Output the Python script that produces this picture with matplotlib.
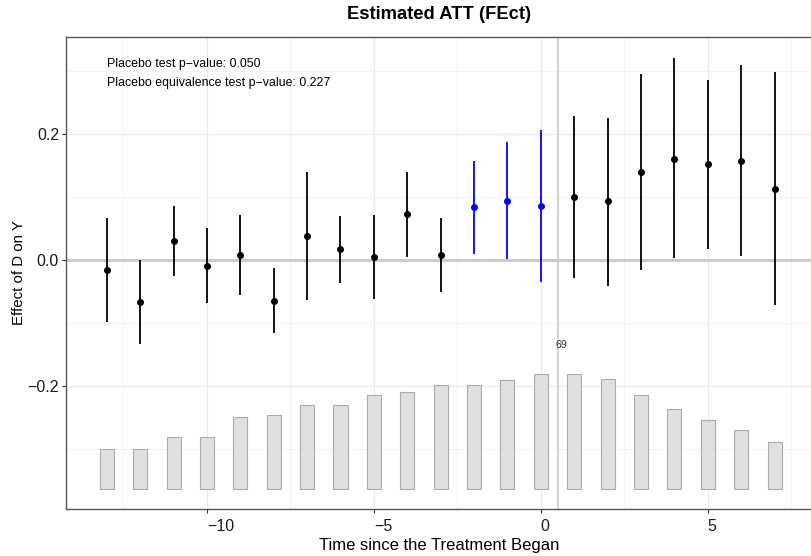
import numpy as np
import matplotlib.pyplot as plt
from matplotlib.ticker import MultipleLocator

plt.rcParams['font.family'] = ['Liberation Sans', 'DejaVu Sans']

# Periods relative to treatment
periods = np.arange(-13, 8)
att = [-0.016, -0.067, 0.030, -0.009, 0.008, -0.065, 0.038, 0.017, 0.005, 0.073, 0.008,
       0.084, 0.094, 0.086,
       0.100, 0.093, 0.139, 0.161, 0.152, 0.158, 0.113]
ci_low = [-0.098, -0.133, -0.025, -0.068, -0.056, -0.116, -0.063, -0.037, -0.062, 0.005, -0.050,
          0.009, 0.001, -0.035,
          -0.029, -0.041, -0.016, 0.003, 0.018, 0.006, -0.071]
ci_high = [0.067, 0.000, 0.086, 0.051, 0.071, -0.012, 0.140, 0.070, 0.071, 0.140, 0.066,
           0.158, 0.187, 0.207,
           0.229, 0.226, 0.295, 0.320, 0.286, 0.310, 0.298]
# placebo periods drawn in blue
placebo = [-2, -1, 0]
# number of treated units at each period
counts = [24, 24, 31, 31, 43, 44, 50, 50, 56, 58, 62, 62, 65, 69, 69, 66, 56, 48, 41, 35, 28]

bar_base = -0.363
bar_max_h = 0.183

fig = plt.figure(figsize=(8.12, 5.56), dpi=100)
ax = fig.add_axes([66 / 812, 47 / 556, 1 - 66 / 812, 472 / 556])

# counts histogram at the bottom
heights = np.array(counts) / max(counts) * bar_max_h
ax.bar(periods, heights, width=0.42, bottom=bar_base, color='#E0E0E0',
       edgecolor='#AAAAAA', linewidth=0.8, zorder=2)
ax.text(0.62, bar_base + bar_max_h + 0.045, str(max(counts)),
        fontsize=7.7, color='#333333', ha='center', va='center', zorder=5)

# reference lines
ax.axhline(0, color='#CCCCCC', linewidth=2.2, zorder=1)
ax.axvline(0.5, color='#D3D3D3', linewidth=1.5, zorder=1)

# estimates with confidence intervals
for p, e, lo, hi in zip(periods, att, ci_low, ci_high):
    c = 'blue' if p in placebo else 'black'
    ax.vlines(p, lo, hi, color=c, linewidth=1.3, zorder=3)
    ax.plot(p, e, 'o', color=c, markersize=4, zorder=4)

ax.text(-13, 0.311, 'Placebo test p\u2212value: 0.050', fontsize=8.9, va='center')
ax.text(-13, 0.281, 'Placebo equivalence test p\u2212value: 0.227', fontsize=8.9, va='center')

ax.set_xlim(-14.22, 8.12)
ax.set_ylim(-0.395, 0.354)
ax.xaxis.set_minor_locator(MultipleLocator(2.5))
ax.yaxis.set_minor_locator(MultipleLocator(0.1))
ax.set_xticks([-10, -5, 0, 5])
ax.set_xticklabels(['\u221210', '\u22125', '0', '5'])
ax.set_yticks([-0.2, 0.0, 0.2])
ax.set_yticklabels(['\u22120.2', '0.0', '0.2'])
for lab in ax.get_xticklabels():
    lab.set_horizontalalignment('left')
ax.grid(which='major', color='#EBEBEB', linewidth=0.9, zorder=0)
ax.grid(which='minor', color='#F2F2F2', linewidth=0.6, zorder=0)
ax.set_axisbelow(True)
ax.tick_params(which='minor', length=0)
ax.tick_params(which='major', length=3, color='#333333', labelsize=11.5, labelcolor='#1A1A1A')
ax.tick_params(axis='y', pad=2)
ax.tick_params(axis='x', pad=4)
for s in ax.spines.values():
    s.set_color('#555555')
    s.set_linewidth(1.0)

ax.set_xlabel('Time since the Treatment Began', fontsize=12, labelpad=3)
ax.set_ylabel('Effect of D on Y', fontsize=10.8, labelpad=1)
ax.set_title('Estimated ATT (FEct)', fontsize=13.2, fontweight='bold', pad=13)

fig.savefig('out.png', dpi=100)
